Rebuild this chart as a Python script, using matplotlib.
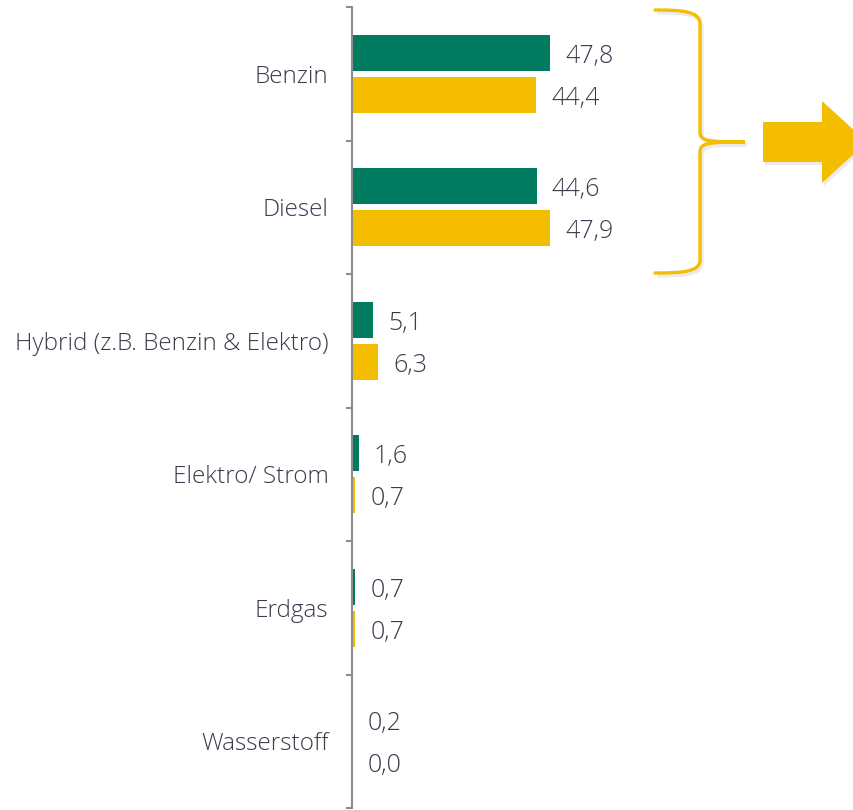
import matplotlib.pyplot as plt
import numpy as np
from matplotlib.path import Path
from matplotlib.patches import PathPatch, Polygon

plt.rcParams['font.family'] = ['Open Sans', 'DejaVu Sans']
plt.rcParams['font.weight'] = 'light'

categories = ["Benzin", "Diesel", "Hybrid (z.B. Benzin & Elektro)",
              "Elektro/ Strom", "Erdgas", "Wasserstoff"]
series_a = [47.8, 44.6, 5.1, 1.6, 0.7, 0.2]   # green
series_b = [44.4, 47.9, 6.3, 0.7, 0.7, 0.0]   # yellow

green = "#007B5F"
yellow = "#F5BD00"
txt = "#3c3a4c"
W, H = 854, 810

fig = plt.figure(figsize=(W / 100, H / 100), dpi=100)
ax = fig.add_axes([352 / W, 2 / H, (W - 352) / W, 801 / H])

y = np.arange(len(categories))
bh = 0.27
off = 0.157
ax.barh(y - off, series_a, height=bh, color=green)
ax.barh(y + off, series_b, height=bh, color=yellow)

for yi, a, b in zip(y, series_a, series_b):
    ax.annotate(f"{a:.1f}".replace(".", ","), (a, yi - off), xytext=(11, -2.5),
                textcoords="offset points", va="center", ha="left",
                fontsize=18, color=txt)
    ax.annotate(f"{b:.1f}".replace(".", ","), (b, yi + off), xytext=(11, -2.5),
                textcoords="offset points", va="center", ha="left",
                fontsize=18, color=txt)

ax.set_ylim(len(categories) - 0.5, -0.5)
ax.set_xlim(0, (W - 352) / 4.14)
ax.set_yticks(np.arange(len(categories) + 1) - 0.5)
ax.set_yticklabels([])
ax.set_yticks(y, minor=True)
ax.set_yticklabels(categories, minor=True, fontsize=17.5, color=txt)
ax.tick_params(axis="y", which="major", length=4.5, width=1.5, color="#8c8c8c")
ax.tick_params(axis="y", which="minor", length=0, pad=17)
ax.set_xticks([])
for s in ["top", "right", "bottom"]:
    ax.spines[s].set_visible(False)
ax.spines["left"].set_color("#8c8c8c")
ax.spines["left"].set_linewidth(1.5)


def fp(x, yy):
    return (x / W, (H - yy) / H)


# curly brace
pts = [(655, 10), (682, 10), (700, 11), (700, 24),
       (700, 132),
       (700, 141), (708, 142), (745, 142),
       (708, 142), (700, 143), (700, 152),
       (700, 260),
       (700, 272), (682, 273), (655, 273)]
codes = [Path.MOVETO, Path.CURVE4, Path.CURVE4, Path.CURVE4,
         Path.LINETO,
         Path.CURVE4, Path.CURVE4, Path.CURVE4,
         Path.CURVE4, Path.CURVE4, Path.CURVE4,
         Path.LINETO,
         Path.CURVE4, Path.CURVE4, Path.CURVE4]
brace = Path([fp(*p) for p in pts], codes)
shadow = Path([fp(p[0] + 2, p[1] + 3) for p in pts], codes)
fig.patches.append(PathPatch(shadow, transform=fig.transFigure, fill=False,
                             lw=2.4, edgecolor="#000000", alpha=0.08))
fig.patches.append(PathPatch(brace, transform=fig.transFigure, fill=False,
                             lw=2.4, edgecolor=yellow, capstyle="round"))

# arrow
arrow = [(763, 122), (822, 122), (822, 101), (867, 142),
         (822, 183), (822, 162), (763, 162)]
fig.patches.append(Polygon([fp(x + 2, yy + 3) for x, yy in arrow], closed=True,
                           transform=fig.transFigure, facecolor="#000000",
                           alpha=0.08, lw=0))
fig.patches.append(Polygon([fp(*p) for p in arrow], closed=True,
                           transform=fig.transFigure, facecolor=yellow, lw=0))

fig.savefig("out.png", dpi=100)
